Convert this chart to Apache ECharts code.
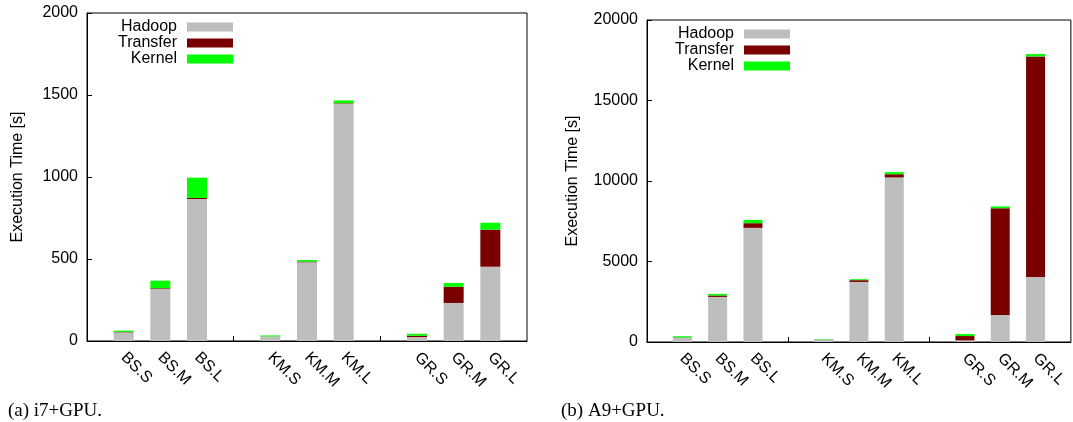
<!DOCTYPE html>
<html>
<head>
<meta charset="utf-8">
<script src="https://cdn.jsdelivr.net/npm/echarts@6/dist/echarts.min.js"></script>
<style>
  html, body { margin: 0; padding: 0; background: #fff; }
  #chart { width: 1073px; height: 422px; }
</style>
</head>
<body>
<div id="chart"></div>
<script>
// benchmark names, three groups of three sizes
const categories = ['BS.S', 'BS.M', 'BS.L', 'KM.S', 'KM.M', 'KM.L', 'GR.S', 'GR.M', 'GR.L'];

// (a) i7+GPU, seconds
const i7Hadoop = [53, 318, 866, 27, 480, 1447, 24, 232, 453];
const i7Transfer = [2, 4, 6, 1, 4, 3, 8, 99, 226];
const i7Kernel = [8, 46, 124, 6, 10, 17, 12, 23, 42];

// (b) A9+GPU, seconds
const a9Hadoop = [270, 2800, 7090, 130, 3730, 10220, 100, 1680, 4040];
const a9Transfer = [15, 90, 290, 10, 110, 200, 270, 6630, 13700];
const a9Kernel = [75, 100, 205, 30, 60, 130, 125, 110, 145];

const i7Ticks = [0, 500, 1000, 1500, 2000];
const a9Ticks = [0, 5000, 10000, 15000, 20000];

const colors = { Hadoop: '#bebebe', Transfer: '#7a0000', Kernel: '#00ff00' };
const font = 'Liberation Sans, Arial, sans-serif';

// put an empty slot before, between and after the groups of three
function pad(arr, fill) {
  const out = [fill];
  arr.forEach((v, i) => {
    out.push(v);
    if (i % 3 === 2) out.push(fill);
  });
  return out;
}

const axisCats = pad(categories, '');

function xAxisFor(gridIndex) {
  return {
    type: 'category',
    gridIndex: gridIndex,
    data: axisCats,
    boundaryGap: false,
    axisLine: { lineStyle: { color: '#000', width: 1 } },
    axisTick: {
      show: true,
      inside: true,
      length: 5,
      interval: (idx, val) => val === '' && idx > 0 && idx < axisCats.length - 1,
      lineStyle: { color: '#000' }
    },
    axisLabel: {
      interval: 0,
      rotate: -45,
      margin: 14,
      fontFamily: font,
      fontSize: 16,
      color: '#000'
    },
    splitLine: { show: false }
  };
}

function yAxisFor(gridIndex, ticks, gap) {
  return {
    type: 'value',
    gridIndex: gridIndex,
    min: ticks[0],
    max: ticks[ticks.length - 1],
    interval: ticks[1] - ticks[0],
    name: 'Execution Time [s]',
    nameLocation: 'middle',
    nameGap: gap,
    nameTextStyle: { fontFamily: font, fontSize: 16, color: '#000' },
    axisLine: { show: true, lineStyle: { color: '#000', width: 1 } },
    axisTick: { show: true, inside: true, length: 5, lineStyle: { color: '#000' } },
    axisLabel: {
      fontFamily: font,
      fontSize: 16,
      color: '#000',
      margin: 9,
      formatter: (v) => String(v)
    },
    splitLine: { show: false }
  };
}

function barSeries(name, values, axisIndex, stack, width) {
  return {
    name: name,
    type: 'bar',
    stack: stack,
    xAxisIndex: axisIndex,
    yAxisIndex: axisIndex,
    barWidth: width,
    data: pad(values, null),
    itemStyle: { color: colors[name] },
    emphasis: { disabled: true }
  };
}

function legendAt(left, top) {
  return {
    orient: 'vertical',
    left: left,
    top: top,
    align: 'right',
    icon: 'rect',
    itemWidth: 46,
    itemHeight: 9,
    itemGap: 0,
    selectedMode: false,
    data: ['Hadoop', 'Transfer', 'Kernel'],
    textStyle: {
      fontFamily: font,
      fontSize: 16,
      color: '#000',
      lineHeight: 16,
      width: 70,
      align: 'right',
      padding: [0, 5, 0, 0]
    }
  };
}

const chart = echarts.init(document.getElementById('chart'), null, { renderer: 'canvas' });

chart.setOption({
  animation: false,
  title: [
    {
      text: '(a) i7+GPU.',
      left: 3,
      top: 397,
      textStyle: { fontFamily: 'Liberation Serif, serif', fontSize: 19, fontWeight: 'normal', color: '#000' }
    },
    {
      text: '(b) A9+GPU.',
      left: 556,
      top: 397,
      textStyle: { fontFamily: 'Liberation Serif, serif', fontSize: 19, fontWeight: 'normal', color: '#000' }
    }
  ],
  legend: [legendAt(102, 14), legendAt(659, 21)],
  grid: [
    { left: 87, right: 546, top: 13, bottom: 81, show: true, borderColor: '#000', borderWidth: 1 },
    { left: 647, right: -5, top: 20, bottom: 80, show: true, borderColor: '#000', borderWidth: 1 }
  ],
  xAxis: [xAxisFor(0), xAxisFor(1)],
  yAxis: [yAxisFor(0, i7Ticks, 61), yAxisFor(1, a9Ticks, 66)],
  series: [
    barSeries('Hadoop', i7Hadoop, 0, 'i7', 20),
    barSeries('Transfer', i7Transfer, 0, 'i7', 20),
    barSeries('Kernel', i7Kernel, 0, 'i7', 20),
    barSeries('Hadoop', a9Hadoop, 1, 'a9', 19),
    barSeries('Transfer', a9Transfer, 1, 'a9', 19),
    barSeries('Kernel', a9Kernel, 1, 'a9', 19)
  ]
});

window.addEventListener('resize', () => chart.resize());
</script>
</body>
</html>
